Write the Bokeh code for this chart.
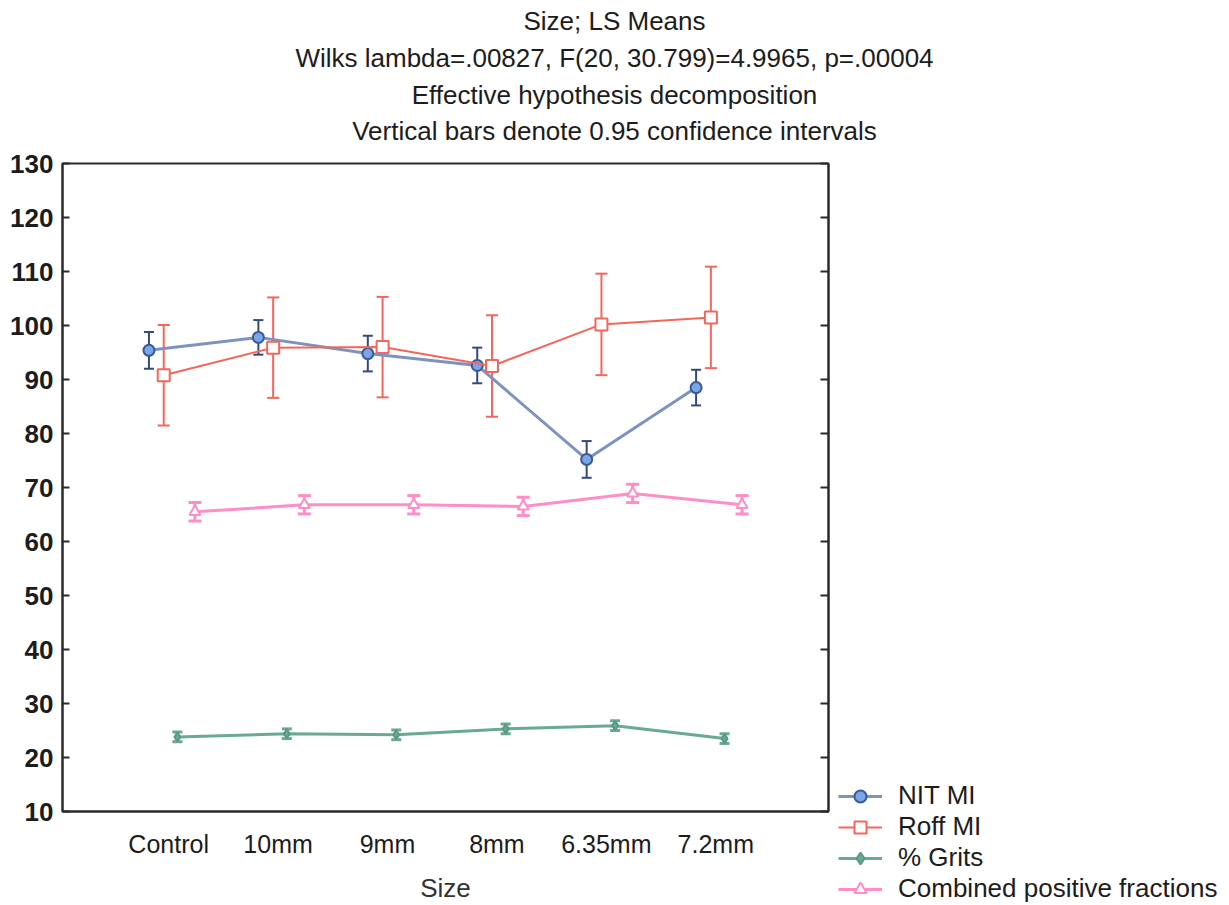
from bokeh.plotting import figure
from bokeh.layouts import column, row
from bokeh.models import (Range1d, FixedTicker, LinearAxis, Whisker, TeeHead,
                          ColumnDataSource, Legend, LegendItem, Label, Spacer)
from bokeh.embed import file_html
from bokeh.resources import INLINE

# LS means and 0.95 confidence half-widths per screen size
sizes = ["Control", "10mm", "9mm", "8mm", "6.35mm", "7.2mm"]

nit_mean = [95.4, 97.8, 94.8, 92.6, 75.2, 88.5]
nit_ci = [3.4, 3.2, 3.3, 3.3, 3.4, 3.3]

roff_mean = [90.8, 95.9, 96.0, 92.5, 100.2, 101.5]
roff_ci = [9.3, 9.3, 9.3, 9.4, 9.4, 9.4]

grits_mean = [23.8, 24.4, 24.2, 25.3, 25.9, 23.5]
grits_ci = [0.9, 0.9, 0.9, 0.9, 0.9, 0.9]

cpf_mean = [65.5, 66.8, 66.8, 66.5, 68.9, 66.8]
cpf_ci = [1.7, 1.7, 1.7, 1.7, 1.7, 1.7]

y_ticks = [10, 20, 30, 40, 50, 60, 70, 80, 90, 100, 110, 120, 130]

title_lines = [
    "Size; LS Means",
    "Wilks lambda=.00827, F(20, 30.799)=4.9965, p=.00004",
    "Effective hypothesis decomposition",
    "Vertical bars denote 0.95 confidence intervals",
]

FONT = "Liberation Sans"
INK = "#1c1c1c"
FRAME = "#2a2a2a"
NAN = float("nan")

# ---------- heading strip ----------
head = figure(width=1229, height=150, output_backend="svg", toolbar_location=None,
              x_range=Range1d(0, 1), y_range=Range1d(0, 1),
              x_axis_location=None, y_axis_location=None,
              min_border=0, outline_line_color=None)
head.xgrid.visible = False
head.ygrid.visible = False
heading_y = [130, 93, 56, 20]
for txt, yy in zip(title_lines, heading_y):
    head.add_layout(Label(x=614, y=yy, x_units="screen", y_units="screen", text=txt,
                          text_align="center", text_baseline="middle",
                          text_font=FONT, text_font_size="26px", text_color=INK))

# ---------- main chart ----------
p = figure(width=830, height=755, output_backend="svg", toolbar_location=None,
           x_range=Range1d(-0.97, 6.03), y_range=Range1d(10, 130),
           min_border_left=62, min_border_right=2, min_border_top=13,
           min_border_bottom=94)
p.outline_line_color = FRAME
p.outline_line_width = 2
p.xgrid.visible = False
p.ygrid.visible = False

# bottom axis: category names, no ticks
xa = p.xaxis[0]
xa.ticker = FixedTicker(ticks=list(range(len(sizes))))
xa.major_label_overrides = {i: s for i, s in enumerate(sizes)}
xa.major_tick_line_color = None
xa.minor_tick_line_color = None
xa.axis_line_color = FRAME
xa.axis_line_width = 2
xa.major_label_text_font = FONT
xa.major_label_text_font_size = "25px"
xa.major_label_text_color = INK
xa.major_label_standoff = 12
xa.axis_label = "Size"
xa.axis_label_text_font = FONT
xa.axis_label_text_font_size = "26px"
xa.axis_label_text_font_style = "normal"
xa.axis_label_text_color = "#333333"
xa.axis_label_standoff = 12

# left axis: inward ticks, bold labels
ya = p.yaxis[0]
ya.ticker = FixedTicker(ticks=y_ticks)
ya.major_tick_in = 7
ya.major_tick_out = 0
ya.minor_tick_line_color = None
ya.major_tick_line_width = 2
ya.major_tick_line_color = FRAME
ya.axis_line_color = FRAME
ya.axis_line_width = 2
ya.major_label_text_font = FONT
ya.major_label_text_font_size = "26px"
ya.major_label_text_font_style = "bold"
ya.major_label_text_color = INK
ya.major_label_standoff = 9

# right axis: mirrored inward ticks, no labels
ra = LinearAxis(ticker=FixedTicker(ticks=y_ticks))
ra.major_label_overrides = {t: "" for t in y_ticks}
ra.major_label_standoff = 0
ra.major_tick_in = 8
ra.major_tick_out = 0
ra.minor_tick_line_color = None
ra.major_tick_line_width = 2
ra.major_tick_line_color = FRAME
ra.axis_line_color = FRAME
ra.axis_line_width = 2
p.add_layout(ra, "right")

series = [
    dict(name="NIT MI", mean=nit_mean, ci=nit_ci, shift=-0.18,
         line="#7c93c0", lw=3, marker="circle", msize=11,
         fill="#78a6e6", mline="#3a5a96", bar="#34497a", bw=2, cap=10),
    dict(name="Roff MI", mean=roff_mean, ci=roff_ci, shift=-0.045,
         line="#f4665c", lw=2, marker="square", msize=12,
         fill="white", mline="#f4665c", bar="#f4665c", bw=2, cap=12),
    dict(name="% Grits", mean=grits_mean, ci=grits_ci, shift=0.08,
         line="#6aa996", lw=3, marker="diamond", msize=9,
         fill="#6aa996", mline="#5b9886", bar="#6aa996", bw=3, cap=10),
    dict(name="Combined positive fractions", mean=cpf_mean, ci=cpf_ci, shift=0.24,
         line="#ff8dc8", lw=3, marker="triangle", msize=11,
         fill="white", mline="#ff8dc8", bar="#ff8dc8", bw=3, cap=13),
]

for s in series:
    xs = [i + s["shift"] for i in range(len(sizes))]
    src = ColumnDataSource(dict(
        x=xs, y=s["mean"],
        lo=[m - c for m, c in zip(s["mean"], s["ci"])],
        hi=[m + c for m, c in zip(s["mean"], s["ci"])],
    ))
    p.line("x", "y", source=src, line_color=s["line"], line_width=s["lw"])
    p.add_layout(Whisker(
        source=src, base="x", upper="hi", lower="lo",
        line_color=s["bar"], line_width=s["bw"],
        upper_head=TeeHead(size=s["cap"], line_color=s["bar"], line_width=s["bw"]),
        lower_head=TeeHead(size=s["cap"], line_color=s["bar"], line_width=s["bw"])))
    p.scatter("x", "y", source=src, marker=s["marker"], size=s["msize"],
              fill_color=s["fill"], line_color=s["mline"], line_width=2)

# ---------- legend block (bottom right) ----------
side = figure(width=399, height=128, output_backend="svg", toolbar_location=None,
              x_range=Range1d(0, 1), y_range=Range1d(0, 1),
              x_axis_location=None, y_axis_location=None,
              min_border=0, outline_line_color=None)
side.xgrid.visible = False
side.ygrid.visible = False
items = []
for s in series:
    proxy = ColumnDataSource(dict(x=[NAN], y=[NAN]))
    ln = side.line("x", "y", source=proxy, line_color=s["line"], line_width=s["lw"])
    sc = side.scatter("x", "y", source=proxy, marker=s["marker"], size=s["msize"],
                      fill_color=s["fill"], line_color=s["mline"], line_width=2)
    items.append(LegendItem(label=s["name"], renderers=[ln, sc]))

legend = Legend(items=items, location=(8, 1))
legend.background_fill_alpha = 0
legend.border_line_color = None
legend.padding = 0
legend.margin = 0
legend.spacing = 0
legend.glyph_width = 44
legend.glyph_height = 30
legend.label_height = 30
legend.label_standoff = 16
legend.label_text_font = FONT
legend.label_text_font_size = "26px"
legend.label_text_color = INK
side.add_layout(legend)

layout = column(head, row(p, column(Spacer(width=399, height=755 - 128), side)))
open("out.html", "w").write(file_html(layout, INLINE))
